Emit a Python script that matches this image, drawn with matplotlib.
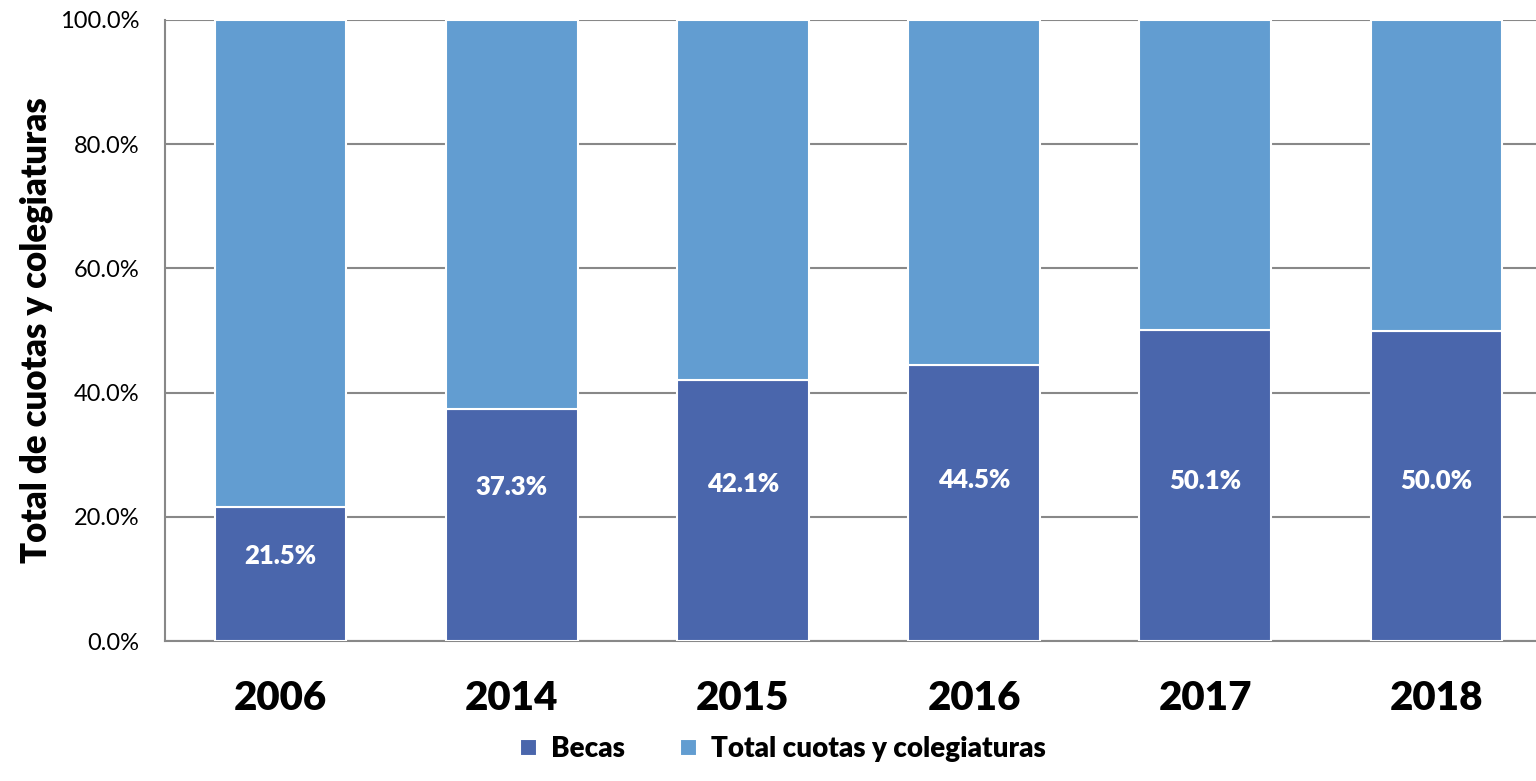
import matplotlib.pyplot as plt
import numpy as np

plt.rcParams['font.family'] = ['Lato', 'DejaVu Sans']

years = ['2006', '2014', '2015', '2016', '2017', '2018']
becas = [21.5, 37.3, 42.1, 44.5, 50.1, 50.0]
total = [100 - b for b in becas]  # resto hasta 100%
labels = ['21.5%', '37.3%', '42.1%', '44.5%', '50.1%', '50.0%']

# posicion vertical de las etiquetas (como en el original, puestas a mano)
label_pos = [13.7, 24.8, 25.3, 25.9, 25.8, 25.8]

c_becas = '#4A66AC'
c_total = '#629DD1'
bold = 'heavy'

fig = plt.figure(figsize=(15.36, 7.81), dpi=100)
ax = fig.add_axes([165/1536, 1 - 641/781, 1 - 165/1536, 621/781])

x = np.arange(len(years))
w = 0.57
ax.bar(x, becas, w, color=c_becas, edgecolor='white', linewidth=1.5,
       label='Becas', zorder=3)
ax.bar(x, total, w, bottom=becas, color=c_total, edgecolor='white',
       linewidth=1.5, label='Total cuotas y colegiaturas', zorder=3)

for i, t in enumerate(labels):
    ax.text(x[i], label_pos[i], t, ha='center', va='center', color='white',
            fontsize=18.5, fontweight=bold, zorder=4)

ax.set_ylim(0, 100)
ax.set_xlim(-0.5, 5.43)
ax.set_yticks([0, 20, 40, 60, 80, 100])
ax.set_yticklabels(['0.0%', '20.0%', '40.0%', '60.0%', '80.0%', '100.0%'],
                   fontsize=17)
ax.set_xticks(x)
ax.set_xticklabels(years, fontsize=29, fontweight=bold)
ax.tick_params(axis='x', length=0, pad=28)
ax.tick_params(axis='y', length=0, pad=18.5)

ax.yaxis.grid(True, color='#888888', linewidth=1.5, zorder=0)
for s in ['top', 'right']:
    ax.spines[s].set_visible(False)
ax.spines['left'].set_color('#888888')
ax.spines['bottom'].set_color('#888888')
ax.spines['left'].set_linewidth(1.5)
ax.spines['bottom'].set_linewidth(1.5)

ax.set_ylabel('Total de cuotas y colegiaturas', fontsize=25,
              fontweight=bold, labelpad=5)

fig.legend(loc='lower center', bbox_to_anchor=(783/1536, -0.008), ncol=2,
           frameon=False, prop={'size': 20, 'weight': bold},
           handlelength=0.6, handleheight=0.6, columnspacing=2.0,
           handletextpad=0.5)

fig.savefig('out.png', dpi=100)
